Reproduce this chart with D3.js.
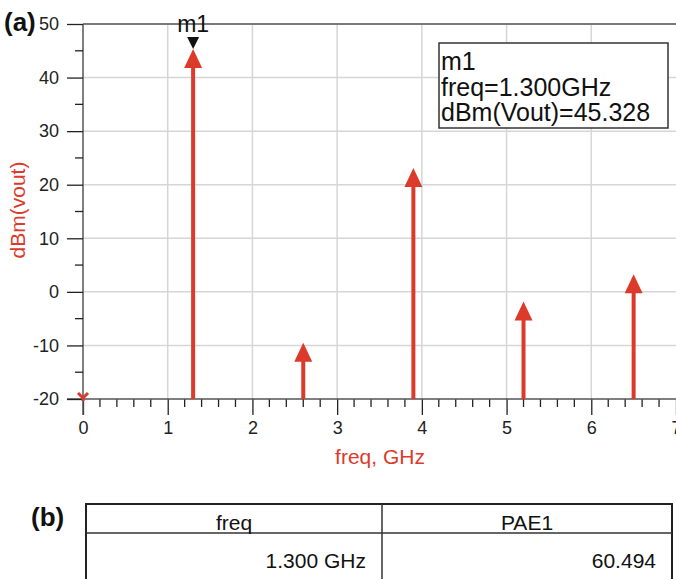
<!DOCTYPE html>
<meta charset="utf-8">
<style>
    body { margin: 0; background: #fff; }
    svg { display: block; font-family: "Liberation Sans", Arial, sans-serif; }
</style>
<body>
<div id="chart"></div>
<script src="https://d3js.org/d3.v7.min.js"></script>
<script>
    // harmonic spectrum (GHz, dBm)
    var freqs = [1.3, 2.6, 3.9, 5.2, 6.5]
    var levels = [45.328, -9.5, 23.1, -1.8, 3.3]
    var dcFreq = [0]
    var dcLevel = [-20] // DC term sits below the axis floor
    var xTicks = [0, 1, 2, 3, 4, 5, 6, 7]
    var yTicks = [-20, -10, 0, 10, 20, 30, 40, 50]
    var markerLines = ['m1', 'freq=1.300GHz', 'dBm(Vout)=45.328']
    var tableHead = ['freq', 'PAE1']
    var tableRow = ['1.300 GHz', '60.494']

    var red = '#dc3a2b'
    var width = 676, height = 579

    var svg = d3.select('#chart').append('svg')
        .attr('width', width)
        .attr('height', height)

    var x = d3.scaleLinear().domain([0, 7]).range([83, 676])
    var y = d3.scaleLinear().domain([-20, 50]).range([399, 24])

    // grid
    svg.append('g').selectAll('line')
        .data(xTicks.filter(function (d) { return d > 0 && d < 7 }))
        .enter().append('line')
        .attr('x1', function (d) { return x(d) }).attr('x2', function (d) { return x(d) })
        .attr('y1', y(50)).attr('y2', y(-20))
        .style('stroke', '#d6d6d6').style('stroke-width', 1.5)
    svg.append('g').selectAll('line')
        .data(yTicks.filter(function (d) { return d > -20 && d < 50 }))
        .enter().append('line')
        .attr('x1', x(0)).attr('x2', x(7))
        .attr('y1', function (d) { return y(d) }).attr('y2', function (d) { return y(d) })
        .style('stroke', '#d6d6d6').style('stroke-width', 1.5)

    // top frame line
    svg.append('line')
        .attr('x1', x(0)).attr('x2', x(7))
        .attr('y1', y(50)).attr('y2', y(50))
        .style('stroke', '#7a7a7a').style('stroke-width', 2)

    // axes
    var fmt = function (d) { return String(d) }
    var xAxis = d3.axisBottom(x).tickValues(xTicks).tickFormat(fmt).tickSize(16).tickSizeOuter(0).tickPadding(6)
    var yAxis = d3.axisLeft(y).tickValues(yTicks).tickFormat(fmt).tickSize(16).tickSizeOuter(0).tickPadding(8)

    var gx = svg.append('g').attr('transform', 'translate(0,' + y(-20) + ')').call(xAxis)
    var gy = svg.append('g').attr('transform', 'translate(' + x(0) + ',0)').call(yAxis)

    var xMinor = d3.range(1, 35).map(function (i) { return i / 5 }).filter(function (d) { return Math.abs(d - Math.round(d)) > 1e-6 })
    var yMinor = d3.range(-15, 50, 10)
    gx.append('g').selectAll('line').data(xMinor).enter().append('line')
        .attr('x1', function (d) { return x(d) }).attr('x2', function (d) { return x(d) })
        .attr('y1', 0).attr('y2', 8)
    gy.append('g').selectAll('line').data(yMinor).enter().append('line')
        .attr('y1', function (d) { return y(d) }).attr('y2', function (d) { return y(d) })
        .attr('x1', 0).attr('x2', -8)

    ;[gx, gy].forEach(function (g) {
        g.selectAll('line').style('stroke', '#222').style('stroke-width', 1.3)
        g.selectAll('text').style('font-size', '18px').style('fill', '#222')
            .style('font-family', '"Liberation Sans", Arial, sans-serif')
    })
    // x axis line runs from the y tick stub to the right edge
    gx.select('.domain').remove()
    gx.append('line').attr('x1', x(0) - 16).attr('x2', x(7)).attr('y1', 0).attr('y2', 0)
        .style('stroke', '#555').style('stroke-width', 1.5)
    gy.select('.domain').attr('d', 'M0,' + y(50) + 'V' + (y(-20) + 16))
        .style('stroke', '#555').style('stroke-width', 1.5)

    // stems with arrow heads
    var data = freqs.map(function (f, i) { return { f: f, v: levels[i] } })
    var head = 19, half = 9
    var stems = svg.append('g')
    stems.selectAll('line').data(data).enter().append('line')
        .attr('x1', function (d) { return x(d.f) }).attr('x2', function (d) { return x(d.f) })
        .attr('y1', y(-20)).attr('y2', function (d) { return y(d.v) + head - 1 })
        .style('stroke', red).style('stroke-width', 4)
    stems.selectAll('path').data(data).enter().append('path')
        .attr('d', function (d) {
            var cx = x(d.f), ty = y(d.v)
            return 'M' + cx + ',' + ty + 'L' + (cx + half) + ',' + (ty + head) + 'L' + (cx - half) + ',' + (ty + head) + 'Z'
        })
        .style('fill', red)

    // DC term marker
    svg.append('g').selectAll('path').data(dcFreq).enter().append('path')
        .attr('d', function (d, i) {
            var cx = x(d), cy = y(dcLevel[i])
            return 'M' + (cx - 5) + ',' + (cy - 6) + 'L' + cx + ',' + (cy - 1) + 'L' + (cx + 5) + ',' + (cy - 6) +
                'M' + cx + ',' + (cy - 1) + 'V' + (cy + 2)
        })
        .style('fill', 'none').style('stroke', red).style('stroke-width', 3)

    // marker m1
    var m = data[0]
    svg.append('path')
        .attr('d', 'M' + (x(m.f) - 6) + ',' + (y(m.v) - 12) + 'L' + (x(m.f) + 6) + ',' + (y(m.v) - 12) + 'L' + x(m.f) + ',' + y(m.v) + 'Z')
        .style('fill', '#111')
    svg.append('text')
        .attr('x', x(m.f)).attr('y', 32)
        .attr('text-anchor', 'middle')
        .style('font-size', '23px').style('fill', '#111')
        .text('m1')

    // marker readout box
    svg.append('rect')
        .attr('x', 439).attr('y', 43).attr('width', 229).attr('height', 85)
        .style('fill', '#fff').style('stroke', '#333').style('stroke-width', 1.5)
    svg.append('g').selectAll('text').data(markerLines).enter().append('text')
        .attr('x', 441).attr('y', function (d, i) { return [70, 96, 121][i] })
        .style('font-size', '25px').style('fill', '#111')
        .text(function (d) { return d })

    // labels
    svg.append('text')
        .attr('x', 380).attr('y', 464)
        .attr('text-anchor', 'middle')
        .style('font-size', '21px').style('fill', red)
        .text('freq, GHz')
    svg.append('text')
        .attr('transform', 'translate(25,210) rotate(-90)')
        .attr('text-anchor', 'middle')
        .style('font-size', '21px').style('fill', red)
        .text('dBm(vout)')
    svg.append('text')
        .attr('x', 4).attr('y', 31)
        .style('font-size', '26px').style('font-weight', 'bold').style('fill', '#111')
        .text('(a)')

    // table (b)
    svg.append('text')
        .attr('x', 31).attr('y', 526)
        .style('font-size', '26px').style('font-weight', 'bold').style('fill', '#111')
        .text('(b)')
    var tb = svg.append('g')
    tb.append('rect')
        .attr('x', 86).attr('y', 504).attr('width', 586).attr('height', 120)
        .style('fill', 'none').style('stroke', '#222').style('stroke-width', 2)
    tb.append('line').attr('x1', 86).attr('x2', 672).attr('y1', 533).attr('y2', 533)
        .style('stroke', '#333').style('stroke-width', 1.5)
    tb.append('line').attr('x1', 382).attr('x2', 382).attr('y1', 504).attr('y2', 600)
        .style('stroke', '#333').style('stroke-width', 1.5)
    var cols = [[86, 382], [382, 672]]
    tb.selectAll('.head').data(tableHead).enter().append('text')
        .attr('class', 'head')
        .attr('x', function (d, i) { return (cols[i][0] + cols[i][1]) / 2 }).attr('y', 530)
        .attr('text-anchor', 'middle')
        .style('font-size', '21px').style('fill', '#111')
        .text(function (d) { return d })
    tb.selectAll('.cell').data(tableRow).enter().append('text')
        .attr('class', 'cell')
        .attr('x', function (d, i) { return cols[i][1] - 16 }).attr('y', 568)
        .attr('text-anchor', 'end')
        .style('font-size', '21px').style('fill', '#111')
        .text(function (d) { return d })
</script>
</body>
